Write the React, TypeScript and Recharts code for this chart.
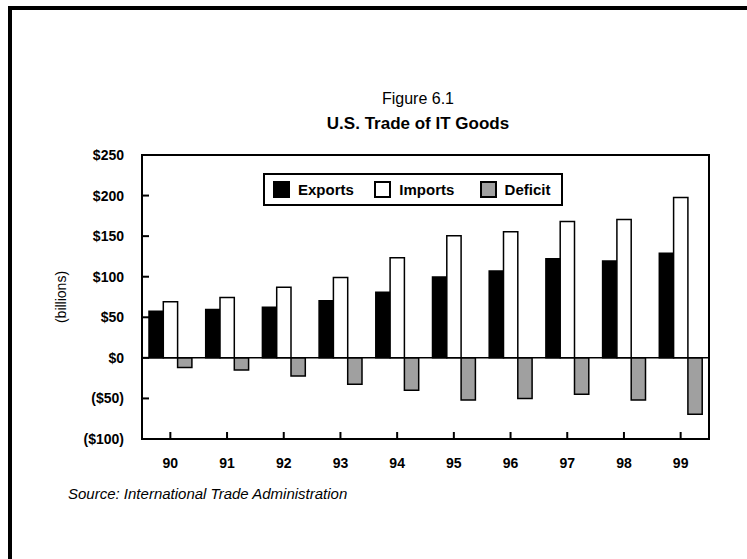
import React from 'react';
import { BarChart, Bar, XAxis, YAxis, Legend, ReferenceLine, ReferenceArea } from 'recharts';

const years = ['90', '91', '92', '93', '94', '95', '96', '97', '98', '99'];
const exportsVals = [57.5, 59.5, 62.5, 70.5, 81, 99.5, 107, 122, 119.5, 129];
const importsVals = [69, 74.5, 87, 99, 123.5, 150.5, 155.5, 168, 170.5, 197.5];
const deficitVals = [-12, -15, -22.5, -32.5, -40, -52, -50, -45, -52, -69.5];
const yTicks = [-100, -50, 0, 50, 100, 150, 200, 250];
const seriesNames = ['Exports', 'Imports', 'Deficit'];
const seriesFills = ['#000000', '#ffffff', '#a0a0a0'];

const data = years.map((year, i) => ({
  year,
  exports: exportsVals[i],
  imports: importsVals[i],
  deficit: deficitVals[i],
}));

const FONT = '"Liberation Sans", Arial, Helvetica, sans-serif';

const fmt = (v: number) => (v < 0 ? `($${-v})` : `$${v}`);

const YTick = (props: any) => {
  const { x, y, payload } = props;
  return (
    <g>
      <line x1={x} x2={x + 7} y1={y} y2={y} stroke="#000" strokeWidth={2} />
      <text x={x - 18} y={y} dy={5} textAnchor="end" fontFamily={FONT} fontWeight="bold" fontSize={14} fill="#000">
        {fmt(payload.value)}
      </text>
    </g>
  );
};

const XTick = (props: any) => {
  const { x, y, payload } = props;
  return (
    <g>
      <line x1={x} x2={x} y1={y} y2={y - 7} stroke="#000" strokeWidth={2} />
      <text x={x} y={y + 29} textAnchor="middle" fontFamily={FONT} fontWeight="bold" fontSize={14} fill="#000">
        {payload.value}
      </text>
    </g>
  );
};

const itemWidths = [104.5, 108.5, 84];

const renderLegend = () => (
  <div
    style={{
      display: 'flex',
      alignItems: 'center',
      width: 300,
      height: 33,
      border: '2px solid #000',
      background: '#fff',
      paddingLeft: 8,
      boxSizing: 'border-box',
      fontFamily: FONT,
      fontWeight: 'bold',
      fontSize: 15,
      color: '#000',
    }}
  >
    {seriesNames.map((n, i) => (
      <div key={n} style={{ display: 'flex', alignItems: 'center', width: itemWidths[i] }}>
        <div
          style={{
            width: 17,
            height: 17,
            boxSizing: 'border-box',
            border: '2px solid #000',
            background: seriesFills[i],
            marginRight: 8,
            flex: 'none',
          }}
        />
        <span>{n}</span>
      </div>
    ))}
  </div>
);

export default function App() {
  return (
    <div
      style={{
        position: 'absolute',
        left: 0,
        top: 0,
        width: 747,
        height: 559,
        overflow: 'hidden',
        background: '#fff',
      }}
    >
      <div
        style={{
          position: 'absolute',
          left: 8,
          top: 6,
          width: 900,
          height: 800,
          border: '4px solid #000',
          boxSizing: 'border-box',
        }}
      />
      <div style={{ position: 'absolute', left: 0, top: 0 }}>
        <BarChart
          width={747}
          height={559}
          data={data}
          margin={{ top: 155, right: 38, bottom: 90, left: 0 }}
          barGap={0}
          barSize={14.3}
        >
          <XAxis
            dataKey="year"
            interval={0}
            tickLine={false}
            tickSize={0}
            tickMargin={0}
            height={30}
            axisLine={{ stroke: '#000', strokeWidth: 2 }}
            tick={<XTick />}
          />
          <YAxis
            type="number"
            domain={[-100, 250]}
            ticks={yTicks}
            interval={0}
            width={142}
            tickLine={false}
            tickSize={0}
            tickMargin={0}
            axisLine={{ stroke: '#000', strokeWidth: 2 }}
            tick={<YTick />}
          />
          <ReferenceArea y1={-100} y2={250} fill="none" fillOpacity={0} stroke="#000" strokeWidth={2} strokeOpacity={1} ifOverflow="visible" />
          <ReferenceLine y={0} stroke="#000" strokeWidth={1.5} />
          <Bar dataKey="exports" name="Exports" fill={seriesFills[0]} stroke="#000" strokeWidth={1.5} isAnimationActive={false} />
          <Bar dataKey="imports" name="Imports" fill={seriesFills[1]} stroke="#000" strokeWidth={1.5} isAnimationActive={false} />
          <Bar dataKey="deficit" name="Deficit" fill={seriesFills[2]} stroke="#000" strokeWidth={1.5} isAnimationActive={false} />
          <Legend
            layout="horizontal"
            verticalAlign="middle"
            align="center"
            content={renderLegend}
            wrapperStyle={{ left: 263, top: 173, width: 'auto', height: 'auto' }}
          />
        </BarChart>
      </div>
      <svg
        width={747}
        height={559}
        style={{ position: 'absolute', left: 0, top: 0, pointerEvents: 'none' }}
      >
        <text x={418} y={104} textAnchor="middle" fontFamily={FONT} fontSize={16} fill="#000">
          Figure 6.1
        </text>
        <text x={418} y={129} textAnchor="middle" fontFamily={FONT} fontWeight="bold" fontSize={17} fill="#000">
          U.S. Trade of IT Goods
        </text>
        <text
          x={66}
          y={297}
          textAnchor="middle"
          transform="rotate(-90, 66, 297)"
          fontFamily={FONT}
          fontSize={14}
          fill="#000"
        >
          (billions)
        </text>
        <text x={68} y={499} fontFamily={FONT} fontStyle="italic" fontSize={15} fill="#000">
          Source: International Trade Administration
        </text>
      </svg>
    </div>
  );
}
